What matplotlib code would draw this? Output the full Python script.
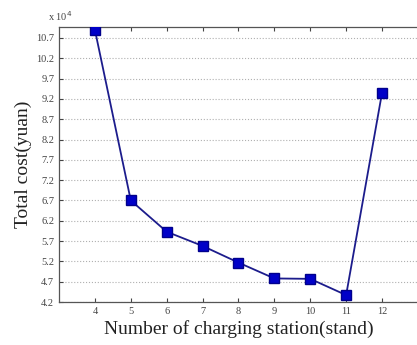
import matplotlib
matplotlib.use("Agg")
from matplotlib import pyplot
from matplotlib.ticker import FixedLocator

# number of charging stations and the total cost (x 10^4 yuan)
stations = [4, 5, 6, 7, 8, 9, 10, 11, 12]
total_cost = [10.9, 6.7, 5.93, 5.58, 5.17, 4.78, 4.77, 4.37, 9.35]
y_ticks = [4.2, 4.7, 5.2, 5.7, 6.2, 6.7, 7.2, 7.7, 8.2, 8.7, 9.2, 9.7, 10.2, 10.7]

pyplot.rcParams["font.family"] = ["Liberation Serif", "DejaVu Serif"]

fig = pyplot.figure(figsize=(4.17, 3.45), dpi=100)
W, H = 417.0, 345.0
ax = fig.add_axes([59 / W, (H - 302) / H, 360 / W, 275 / H])

ax.plot(stations, total_cost, "-", color="#1c1c8c", linewidth=1.3, zorder=3)
ax.plot(stations, total_cost, "s", color="#0000c8", markeredgecolor="#00008c",
        markersize=6.8, zorder=4)

ax.set_xlim(3, 13.03)
ax.set_ylim(4.2, 10.97)
ax.set_xticks(stations)
ax.set_xticklabels([str(s) for s in stations])
ax.yaxis.set_major_locator(FixedLocator(y_ticks))
ax.set_yticklabels(["%.1f" % v for v in y_ticks])

ax.grid(True, axis="y", linestyle=":", color="#b0b0b0", linewidth=0.8)
ax.tick_params(axis="both", direction="in", labelsize=7.5, length=3,
               colors="#444444", top=True, right=False)
for side in ["left", "bottom", "top"]:
    ax.spines[side].set_color("#555555")
    ax.spines[side].set_linewidth(0.9)
ax.spines["right"].set_visible(False)

ax.set_xlabel("Number of charging station(stand)", fontsize=14, color="#222222", labelpad=3)
ax.set_ylabel("Total cost(yuan)", fontsize=14, color="#222222", labelpad=3)
fig.text(48 / W, 1 - 16 / H, r"x 10$^4$", fontsize=7.5, color="#444444",
         ha="left", va="center")

fig.savefig("out.png", dpi=100)
